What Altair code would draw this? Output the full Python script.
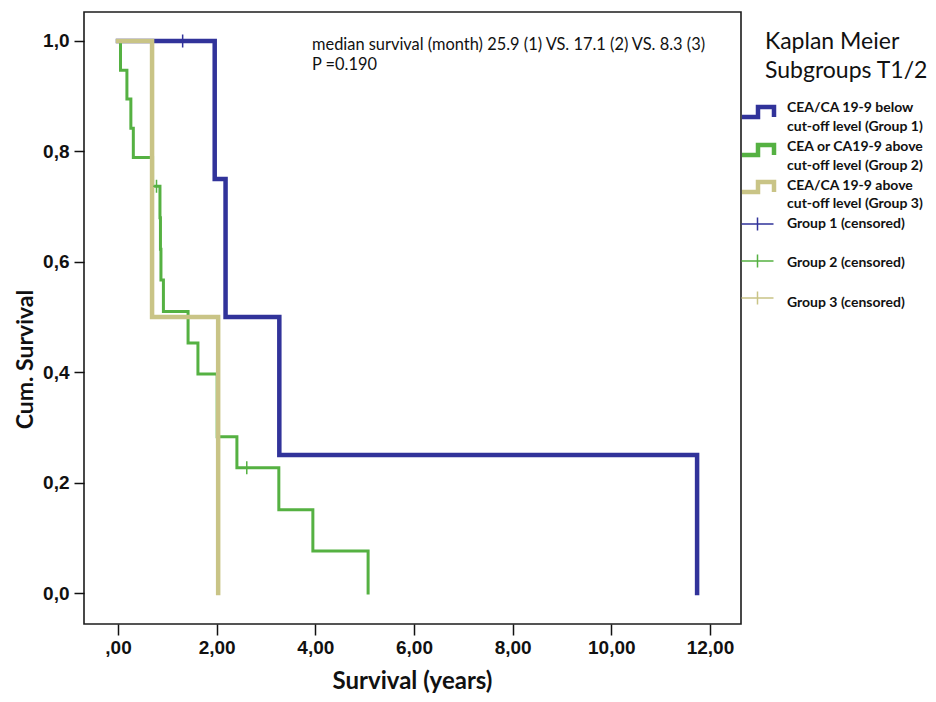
import altair as alt
import pandas as pd

# ---------------- data ----------------
group_names = ["Group 1", "Group 2", "Group 3"]
legend_lines = [
    ["CEA/CA 19-9 below", "cut-off level (Group 1)"],
    ["CEA or CA19-9 above", "cut-off level (Group 2)"],
    ["CEA/CA 19-9 above", "cut-off level (Group 3)"],
]
censor_labels = ["Group 1 (censored)", "Group 2 (censored)", "Group 3 (censored)"]
legend_title = ["Kaplan Meier", "Subgroups T1/2"]
annotation = ["median survival (month) 25.9 (1) VS. 17.1 (2) VS. 8.3 (3)", "P =0.190"]

g1_time = [0.0, 1.96, 2.18, 3.27, 11.74]
g1_surv = [1.0, 0.75, 0.50, 0.25, 0.0]
g1_cens_time = [1.31]
g1_cens_surv = [1.0]

g2_time = [0.0, 0.05, 0.18, 0.26, 0.31, 0.70, 0.85, 0.86, 0.87, 0.92,
           1.42, 1.62, 2.01, 2.41, 3.26, 3.95, 5.07]
g2_surv = [1.0, 0.947, 0.895, 0.842, 0.789, 0.737, 0.680, 0.623, 0.567, 0.510,
           0.453, 0.397, 0.283, 0.227, 0.151, 0.076, 0.0]
g2_cens_time = [0.78, 2.61]
g2_cens_surv = [0.737, 0.227]

g3_time = [0.0, 0.69, 2.03]
g3_surv = [1.0, 0.5, 0.0]
g3_cens_time = []
g3_cens_surv = []

x_ticks = [0, 2, 4, 6, 8, 10, 12]
y_ticks = [0.0, 0.2, 0.4, 0.6, 0.8, 1.0]

# ---------------- styling ----------------
colors = ["#31339a", "#55b142", "#c9c486"]
line_widths = [4.5, 3.0, 4.5]
CAL = "Lato, 'Open Sans', sans-serif"
TICKF = "'Liberation Sans', Arial, sans-serif"

W, H = 657, 612
x_dom = [-0.69, 12.63]
y_dom = [-0.056, 1.0525]

xs = alt.Scale(domain=x_dom, nice=False, zero=False)
ys = alt.Scale(domain=y_dom, nice=False, zero=False)

x_axis = alt.Axis(
    values=x_ticks, grid=False, domain=False, tickSize=11, tickWidth=1.5, tickColor="#111",
    labelExpr="datum.value == 0 ? ',00' : replace(format(datum.value, '.2f'), '.', ',')",
    labelFont=TICKF, labelFontSize=19, labelFontWeight="bold", labelColor="#111", labelPadding=3,
    title="Survival (years)", titleFont=CAL, titleFontSize=24, titleFontWeight="bold", titleColor="#111",
    titleX=328, titleY=57, titleBaseline="middle", titleAlign="center",
)
y_axis = alt.Axis(
    values=y_ticks, grid=False, domain=False, tickSize=10, tickWidth=1.5, tickColor="#111",
    labelExpr="replace(format(datum.value, '.1f'), '.', ',')",
    labelFont=TICKF, labelFontSize=19, labelFontWeight="bold", labelColor="#111", labelPadding=5,
    title="Cum. Survival", titleFont=CAL, titleFontSize=23, titleFontWeight="bold", titleColor="#111",
    titleX=-59, titleY=347, titleAngle=270, titleBaseline="middle", titleAlign="center",
)

groups = [
    (g1_time, g1_surv, g1_cens_time, g1_cens_surv),
    (g2_time, g2_surv, g2_cens_time, g2_cens_surv),
    (g3_time, g3_surv, g3_cens_time, g3_cens_surv),
]

layers = []
for i, (t, s, ct, cs) in enumerate(groups):
    df = pd.DataFrame({"time": t, "surv": s, "group": group_names[i]})
    layers.append(
        alt.Chart(df).mark_line(interpolate="step-after", color=colors[i],
                                strokeWidth=line_widths[i], strokeJoin="miter", strokeCap="square")
        .encode(x=alt.X("time:Q", scale=xs, axis=x_axis),
                y=alt.Y("surv:Q", scale=ys, axis=y_axis))
    )

CENSOR_PATH = "M0,-1V1M-0.5,0H0.5"
for i, (t, s, ct, cs) in enumerate(groups):
    if not ct:
        continue
    dfc = pd.DataFrame({"time": ct, "surv": cs})
    layers.append(
        alt.Chart(dfc).mark_point(shape=CENSOR_PATH, size=169, filled=False, strokeWidth=1.5,
                                  color=colors[i], opacity=1)
        .encode(x=alt.X("time:Q", scale=xs, axis=x_axis),
                y=alt.Y("surv:Q", scale=ys, axis=y_axis))
    )

# ---------------- annotation & legend (pixel layout, relative to plot origin) ----------------
def text_layer(txt, px, py, size, weight="normal", font=CAL):
    return alt.Chart(pd.DataFrame({"label": [txt]})).mark_text(
        align="left", baseline="middle", font=font, fontSize=size, fontWeight=weight, color="#111"
    ).encode(x=alt.value(px), y=alt.value(py), text="label:N")

ann_y = [33, 53]
for k, line in enumerate(annotation):
    layers.append(text_layer(line, 228, ann_y[k], 16.4))

title_y = [30, 59]
for k, line in enumerate(legend_title):
    layers.append(text_layer(line, 681, title_y[k], 23))

STEP_PATH = "M-1,0.31H0V-0.31H1V0.31"
CROSS_PATH = "M-1,0H1M0,-0.4V0.4"
sym_y = [100, 138, 175]
text_y = [[96, 115], [135, 154], [174, 192]]
for i in range(3):
    layers.append(
        alt.Chart(pd.DataFrame({"g": [group_names[i]]})).mark_point(
            shape=STEP_PATH, size=1024, filled=False, strokeWidth=4.5, color=colors[i], opacity=1,
            strokeJoin="miter")
        .encode(x=alt.value(674), y=alt.value(sym_y[i]))
    )
    for k, line in enumerate(legend_lines[i]):
        layers.append(text_layer(line, 703, text_y[i][k], 14, "bold"))

cross_y = [212, 249, 286]
ctext_y = [212, 251, 291]
for i in range(3):
    layers.append(
        alt.Chart(pd.DataFrame({"g": [censor_labels[i]]})).mark_point(
            shape=CROSS_PATH, size=1024, filled=False, strokeWidth=1.5, color=colors[i], opacity=1)
        .encode(x=alt.value(673.5), y=alt.value(cross_y[i]))
    )
    layers.append(text_layer(censor_labels[i], 703, ctext_y[i], 14, "bold"))

chart = alt.layer(*layers).properties(
    width=W, height=H,
    autosize=alt.AutoSizeParams(type="none"),
    padding={"left": 76, "top": 4, "right": 187, "bottom": 70},
    background="white",
).configure_view(stroke="#1c1c1c", strokeWidth=1.6)

chart.save("out.html", embed_options={"renderer": "svg", "actions": False})
